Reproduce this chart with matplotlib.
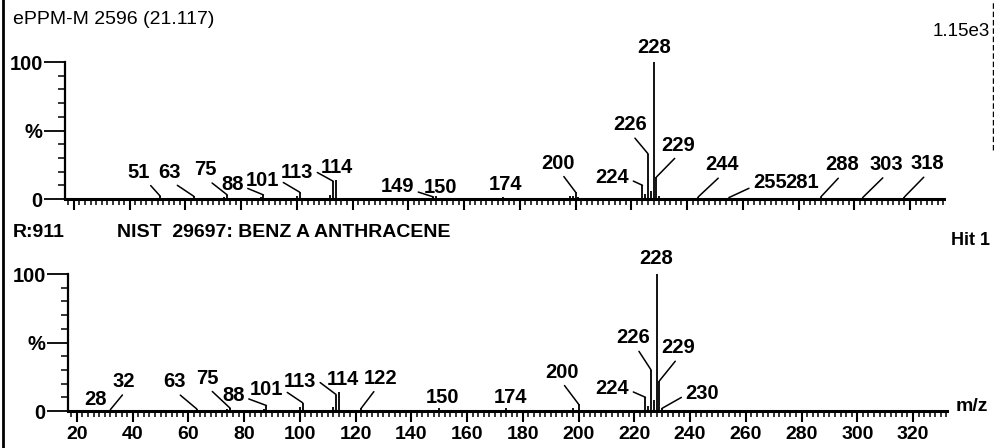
import numpy as np
import matplotlib.pyplot as plt
from matplotlib.ticker import MultipleLocator, FixedLocator

plt.rcParams['font.family'] = ['Liberation Sans', 'DejaVu Sans']

# %% spectra (m/z, relative intensity %)
sample_mz = [50, 51, 62, 63, 74, 75, 87, 88, 100, 101, 112, 113, 114, 126, 137,
             149, 150, 163, 174, 187, 198, 199, 200, 201, 224, 225, 226, 227,
             228, 229, 230, 244, 255, 281, 288, 303, 318]
sample_int = [1, 2, 1, 2, 1.5, 3, 1.5, 3, 2, 5, 3, 13, 14, 1, 1,
              1.5, 2, 1, 1.5, 1, 2, 2, 5, 1.5, 10, 4, 33, 6,
              100, 16, 2, 1.5, 1, 1, 1.5, 1, 1.5]

library_mz = [28, 32, 37, 50, 63, 74, 75, 87, 88, 100, 101, 112, 113, 114,
              122, 150, 174, 198, 200, 224, 225, 226, 227, 228, 229, 230]
library_int = [1, 1, 0.5, 1, 1.5, 1.5, 2, 1.5, 4, 3, 6, 3, 12, 14,
               2, 2, 2, 2, 5, 10, 4, 30, 8, 100, 22, 2]

# labelled peaks: m/z -> (dx px, dy px, leader start on text box or None)
sample_labels = {
    51: (-22, 24, (0.9, 0)), 63: (-24, 24, (0.6, 0)), 75: (-22, 25, (0.6, 0)),
    88: (-31, 10, (1, 0.4)), 101: (-37, 12, (1, 0.5)), 113: (-36, 9, (1, 0.6)),
    114: (1, 12, None), 149: (-36, 10, (1, 0.3)), 150: (4, 9, None),
    174: (2, 12, None), 200: (-18, 29, (0.6, 0)), 224: (-30, 8, (1, 0.4)),
    226: (-18, 29, (0.55, 0)), 228: (1, 15, None), 229: (22, 32, (0.5, 0)),
    244: (24, 32, (0.5, 0)), 255: (41, 15, (0, 0.3)), 281: (1, 15, None),
    288: (21, 32, (0.5, 0)), 303: (24, 33, (0.5, 0)), 318: (23, 33, (0.5, 0)),
}
library_labels = {
    28: (-4, 10, None), 32: (13, 28, (0.6, 0)), 63: (-22, 27, (0.55, 0)),
    75: (-23, 30, (0.55, 0)), 88: (-33, 10, (1, 0.4)), 101: (-36, 13, (1, 0.5)),
    113: (-36, 13, (1, 0.6)), 114: (4, 12, None), 122: (19, 30, (0.4, 0)),
    150: (3, 11, None), 174: (4, 11, None), 200: (-17, 32, (0.5, 0)),
    224: (-33, 9, (1, 0.4)), 226: (-18, 32, (0.6, 0)), 228: (0, 16, None),
    229: (19, 33, (0.5, 0)), 230: (40, 15, (0, 0.4)),
}

x_min, x_max = 16.8, 332.2
x_ticks = list(range(20, 321, 20))

fig = plt.figure(figsize=(9.95, 4.48), dpi=100)
W, H = 995, 448
ax_top = fig.add_axes([65 / W, 1 - 199 / H, 879 / W, 137 / H])
ax_bot = fig.add_axes([68 / W, 1 - 411 / H, 879 / W, 137 / H])


def draw_spectrum(ax, mz, inten, labels, show_xlabels):
    ax.vlines(mz, 0, inten, color='black', lw=1.3, clip_on=False)
    lookup = dict(zip(mz, inten))
    for m, (dx, dy, rel) in labels.items():
        kw = dict(xy=(m, lookup[m]), xytext=(dx, dy), textcoords='offset pixels',
                  ha='center', va='center', fontsize=14.5, fontweight='bold',
                  annotation_clip=False)
        if rel is not None:
            kw['arrowprops'] = dict(arrowstyle='-', color='black', lw=1.1,
                                    relpos=rel, shrinkA=1, shrinkB=0)
        ax.annotate(str(m), **kw)

    ax.set_xlim(x_min, x_max)
    ax.set_ylim(0, 100)
    for s in ['top', 'right']:
        ax.spines[s].set_visible(False)
    ax.spines['bottom'].set_linewidth(2.2)
    ax.spines['left'].set_linewidth(1.6)

    ax.xaxis.set_major_locator(FixedLocator(x_ticks))
    ax.xaxis.set_minor_locator(MultipleLocator(2))
    ax.tick_params(axis='x', which='major', direction='out', length=8, width=1.5,
                   pad=3, labelsize=14, labelbottom=show_xlabels)
    ax.tick_params(axis='x', which='minor', direction='out', length=4, width=1.1)
    if show_xlabels:
        for t in ax.get_xticklabels():
            t.set_fontweight('bold')

    ax.yaxis.set_major_locator(FixedLocator([0, 50, 100]))
    ax.yaxis.set_minor_locator(MultipleLocator(10))
    ax.set_yticklabels(['0', '%', '100'], fontsize=14.5, fontweight='bold')
    ax.tick_params(axis='y', which='major', direction='out', length=15, width=1.3, pad=1)
    ax.tick_params(axis='y', which='minor', direction='out', length=5, width=1.1)


draw_spectrum(ax_top, sample_mz, sample_int, sample_labels, False)
draw_spectrum(ax_bot, library_mz, library_int, library_labels, True)

# headers
fig.text(13 / W, 1 - 20 / H, 'ePPM-M 2596 (21.117)', fontsize=14, va='center', ha='left')
fig.text(990 / W, 1 - 32 / H, '1.15e3', fontsize=13.5, va='center', ha='right')
fig.text(13 / W, 1 - 232 / H, 'R:911', fontsize=14, fontweight='bold', va='center', ha='left')
fig.text(117 / W, 1 - 232 / H, 'NIST  29697: BENZ A ANTHRACENE', fontsize=14,
         fontweight='bold', va='center', ha='left')
fig.text(990 / W, 1 - 240 / H, 'Hit 1', fontsize=13, fontweight='bold', va='center', ha='right')
fig.text(972 / W, 1 - 406 / H, 'm/z', fontsize=14, fontweight='bold', va='center', ha='center')

# page frame lines
fig.add_artist(plt.Line2D([3 / W, 3 / W], [0, 1], color='black', lw=2))
fig.add_artist(plt.Line2D([993 / W, 993 / W], [1 - 150 / H, 1], color='black', lw=1,
                          ls=(0, (4, 2))))

fig.savefig('out.png', dpi=100)
